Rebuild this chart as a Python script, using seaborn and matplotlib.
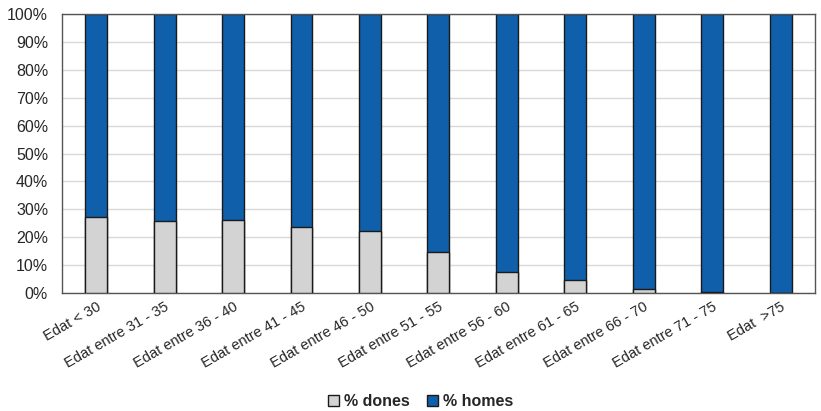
import numpy as np
import pandas as pd
import seaborn as sns
import matplotlib.pyplot as plt
from matplotlib.patches import Patch

categories = ["Edat < 30", "Edat entre 31 - 35", "Edat entre 36 - 40", "Edat entre 41 - 45",
              "Edat entre 46 - 50", "Edat entre 51 - 55", "Edat entre 56 - 60", "Edat entre 61 - 65",
              "Edat entre 66 - 70", "Edat entre 71 - 75", "Edat  >75"]
dones = [27.1, 25.9, 26.2, 23.5, 22.2, 14.8, 7.6, 4.5, 1.5, 0.5, 0.1]
homes = [100 - d for d in dones]

df = pd.DataFrame({"cat": categories, "dones": dones, "homes": homes})
df["total"] = df["dones"] + df["homes"]

sns.set_style("white")
plt.rcParams["font.family"] = ["Liberation Sans", "DejaVu Sans"]

blue = "#105FAA"
grey = "#D3D3D3"
edge = "#1A1A1A"

fig = plt.figure(figsize=(8.21, 4.11), dpi=100)
ax = fig.add_axes([0.0755, 0.287, 0.917, 0.679])

# stacked: total (homes on top) then dones over it
sns.barplot(data=df, x="cat", y="total", color=blue, width=0.32, saturation=1,
            edgecolor=edge, linewidth=1.0, ax=ax, zorder=2)
sns.barplot(data=df, x="cat", y="dones", color=grey, width=0.32, saturation=1,
            edgecolor=edge, linewidth=1.0, ax=ax, zorder=3)

ax.set_ylim(0, 100)
ax.set_xlim(-0.5, len(categories) - 0.5)
ax.set_yticks(np.arange(0, 101, 10))
ax.set_yticklabels([f"{v}%" for v in range(0, 101, 10)], fontsize=11.5)
ax.yaxis.grid(True, color="#D9D9D9", linewidth=1.0, zorder=0)
ax.set_axisbelow(True)
ax.set_xlabel("")
ax.set_ylabel("")
ax.tick_params(axis="y", length=0, pad=10)
ax.tick_params(axis="x", length=0, pad=5)
ax.set_xticks(range(len(categories)))
ax.set_xticklabels(categories, rotation=30, ha="right", rotation_mode="anchor", fontsize=10.5)
for s in ax.spines.values():
    s.set_color("#555555")
    s.set_linewidth(1.0)

handles = [Patch(facecolor=grey, edgecolor=edge, label="% dones"),
           Patch(facecolor=blue, edgecolor=edge, label="% homes")]
fig.legend(handles=handles, loc="center", bbox_to_anchor=(0.512, 0.022), ncol=2,
           frameon=False, prop={"weight": "bold", "size": 11.5},
           handlelength=0.7, handleheight=0.7, handletextpad=0.3, columnspacing=1.1)

fig.savefig("out.png", dpi=100)
